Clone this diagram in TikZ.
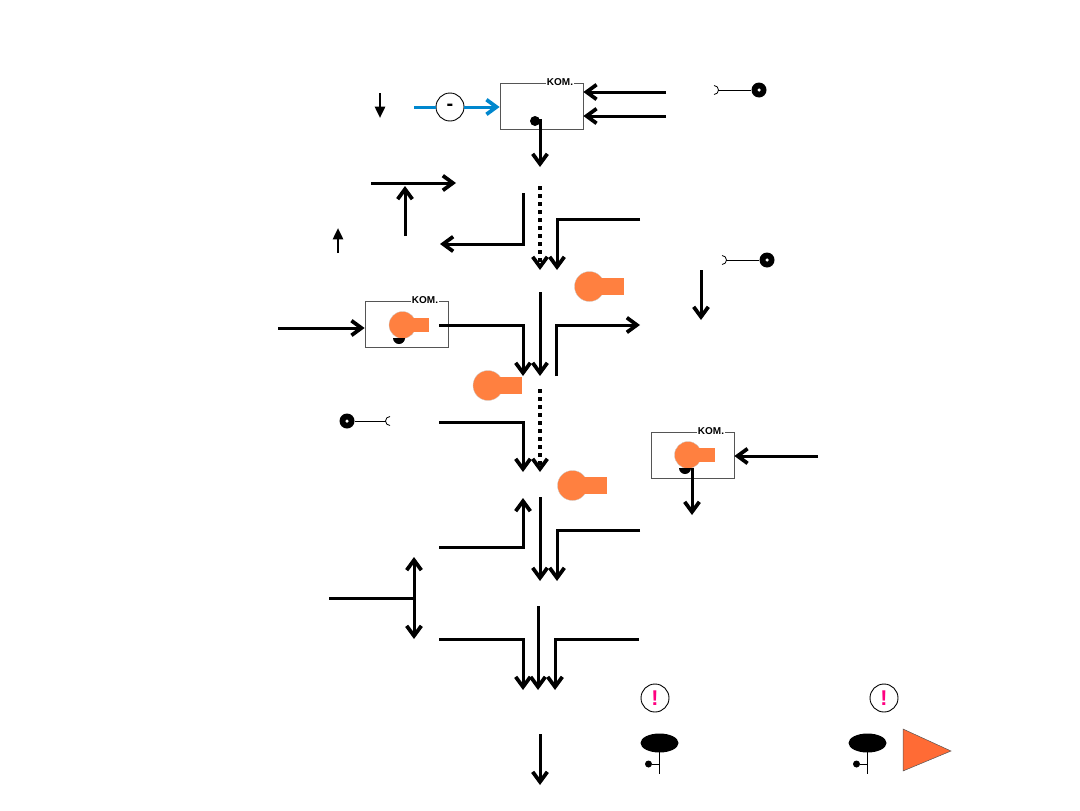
\documentclass[tikz,border=0pt]{standalone}
\usepackage{fontspec}
\setmainfont{Liberation Sans}
\usetikzlibrary{arrows.meta,shapes.geometric}
\newlength{\du}
\setlength{\du}{0.75pt}
\definecolor{bulbcolor}{rgb}{1.000000, 0.501961, 0.250980}
\definecolor{flagcolor}{rgb}{1.000000, 0.419608, 0.207843}
\definecolor{minuscolor}{rgb}{0.000000, 0.529412, 0.807843}
\definecolor{alertcolor}{rgb}{1.000000, 0.000000, 0.501961}
\definecolor{framecolor}{rgb}{0.333333, 0.333333, 0.333333}
\tikzset{
  barbtip/.tip={Straight Barb[length=7.5pt,width=11pt,line width=2.8pt]},
  flow/.style={line width=3\du,-barbtip},
  plainflow/.style={line width=3\du},
  bothflow/.style={line width=3\du,barbtip-barbtip},
  dotflow/.style={flow,line width=4\du,dash pattern=on 4\du off 4\du},
  smallflow/.style={line width=2.5\du,-{Stealth[length=8.5pt,width=7.5pt,inset=0pt]}},
  minusflow/.style={line width=3\du,draw=minuscolor,-{Straight Barb[length=7.5pt,width=11pt,line width=2.8pt,color=minuscolor]}},
  kombox/.style={draw=framecolor,line width=0.8\du,minimum width=83\du,minimum height=46\du,inner sep=0pt},
  komlabel/.style={fill=white,inner sep=1\du,font=\fontsize{7.5pt}{8pt}\selectfont\bfseries},
  roundmark/.style={draw,circle,line width=0.9\du,minimum size=28\du,inner sep=0pt},
  sensordot/.style={circle,fill=black,minimum size=15\du,inner sep=0pt},
  sensorhole/.style={circle,fill=white,minimum size=3.5\du,inner sep=0pt},
  thinwire/.style={line width=0.8\du},
  stemhead/.style={ellipse,fill=black,inner sep=0pt,minimum width=38\du,minimum height=19\du},
  stemdot/.style={circle,fill=black,minimum size=7\du,inner sep=0pt}
}
% lamp: #1=x of round part, #2=y, #3=x of right end, #4=radius, #5=half height of foot
\newcommand{\lamp}[5]{
\fill[bulbcolor,draw=framecolor!30,line width=0.3\du] (#1\du,#2\du) circle (#4\du);
\fill[bulbcolor] (#1\du,#2\du-#5\du) rectangle (#3\du,#2\du+#5\du);
}
% half disc under a lamp
\newcommand{\halfdisc}[2]{
\fill (#1\du-6\du,#2\du) arc[start angle=180,end angle=0,radius=6\du] -- cycle;
}
% stem symbol: #1=x of stem
\newcommand{\stemmark}[2]{
\node[stemhead] (#2e) at (#1\du,743\du) {};
\coordinate (#2a) at (#1\du,752\du);
\coordinate (#2b) at (#1\du,774\du);
\coordinate (#2c) at (#1\du,764\du);
\node[stemdot] (#2d) at (#1\du-11\du,764\du) {};
\draw[line width=1\du] (#2a) -- (#2b);
\draw[line width=1\du] (#2d) -- (#2c);
}
\begin{document}
\begin{tikzpicture}
\pgftransformxscale{1.000000}
\pgftransformyscale{-1.000000}
\useasboundingbox (0\du,0\du) rectangle (1080\du,810\du);
% top box
\node[kombox] (topbox) at (541.5\du,106\du) {};
\node[komlabel] (topkom) at (560\du,82\du) {KOM.};
\fill (535\du,121\du) circle (5\du);
\coordinate (topout) at (540\du,119\du);
\coordinate (topoutend) at (540\du,167\du);
\draw[flow] (topout) -- (topoutend);
\coordinate (topina) at (666\du,92\du);
\coordinate (topinb) at (666\du,116\du);
\draw[flow] (topina) -- (topbox.east |- topina);
\draw[flow] (topinb) -- (topbox.east |- topinb);
% minus
\node[roundmark,font=\fontsize{15pt}{15pt}\selectfont\bfseries] (minus) at (450\du,107\du) {\raisebox{-2.5pt}{-}};
\coordinate (minusin) at (414\du,107\du);
\draw[line width=3\du,draw=minuscolor] (minusin) -- (minus);
\draw[minusflow] (minus) -- (topbox.west |- minus);
% small arrows
\coordinate (smalla) at (380\du,93\du);
\coordinate (smallb) at (380\du,118\du);
\draw[smallflow] (smalla) -- (smallb);
\coordinate (smallc) at (338\du,253\du);
\coordinate (smalld) at (338\du,228\du);
\draw[smallflow] (smallc) -- (smalld);
% sensors
\node[sensordot] (sensa) at (759\du,90\du) {};
\node[sensorhole] (sensahole) at (759\du,90\du) {};
\coordinate (cupa) at (718\du,90\du);
\draw[thinwire] (cupa) -- (sensa);
\draw[thinwire] (714\du,85.5\du) arc[start angle=-90,end angle=90,radius=4.5\du];
\node[sensordot] (sensb) at (767\du,260\du) {};
\node[sensorhole] (sensbhole) at (767\du,260\du) {};
\coordinate (cupb) at (726\du,260\du);
\draw[thinwire] (cupb) -- (sensb);
\draw[thinwire] (722\du,255.5\du) arc[start angle=-90,end angle=90,radius=4.5\du];
\node[sensordot] (sensc) at (347\du,421\du) {};
\node[sensorhole] (senschole) at (347\du,421\du) {};
\coordinate (cupc) at (386\du,421\du);
\draw[thinwire] (sensc) -- (cupc);
\draw[thinwire] (390\du,416.5\du) arc[start angle=-90,end angle=-270,radius=4.5\du];
% first row
\coordinate (rowa) at (371\du,183\du);
\coordinate (rowb) at (456\du,183\du);
\draw[flow] (rowa) -- (rowb);
\coordinate (upa) at (405\du,236\du);
\coordinate (upb) at (405\du,186\du);
\draw[flow] (upa) -- (upb);
\coordinate (turna) at (523\du,193\du);
\coordinate (turnb) at (440\du,244\du);
\draw[flow] (turna) |- (turnb);
\coordinate (dota) at (540\du,186\du);
\coordinate (dotb) at (540\du,270\du);
\draw[dotflow] (dota) -- (dotb);
\coordinate (turnc) at (640\du,219\du);
\coordinate (turnd) at (557\du,270\du);
\draw[flow] (turnc) -| (turnd);
\lamp{589.5}{286.5}{624}{15}{8.5}
\coordinate (sidea) at (701\du,270\du);
\coordinate (sideb) at (701\du,320\du);
\draw[flow] (sidea) -- (sideb);
% second box
\node[kombox] (leftbox) at (406.5\du,324\du) {};
\node[komlabel] (leftkom) at (425\du,300\du) {KOM.};
\lamp{402.5}{325}{429}{13.5}{7}
\halfdisc{399}{338}
\coordinate (leftin) at (278\du,328\du);
\draw[flow] (leftin) -- (leftbox.west |- leftin);
\coordinate (turne) at (439\du,325\du);
\coordinate (turnf) at (523\du,376\du);
\draw[flow] (turne) -| (turnf);
\coordinate (mida) at (540\du,292\du);
\coordinate (midb) at (540\du,376\du);
\draw[flow] (mida) -- (midb);
\coordinate (turng) at (556\du,376\du);
\coordinate (turnh) at (640\du,325\du);
\draw[flow] (turng) |- (turnh);
\lamp{488}{385.5}{522}{15}{8.5}
\coordinate (dotc) at (540\du,389\du);
\coordinate (dotd) at (540\du,472\du);
\draw[dotflow] (dotc) -- (dotd);
\coordinate (turni) at (439\du,422\du);
\coordinate (turnj) at (523\du,472\du);
\draw[flow] (turni) -| (turnj);
% third box
\node[kombox] (rightbox) at (692.5\du,455\du) {};
\node[komlabel] (rightkom) at (711\du,431\du) {KOM.};
\lamp{688}{455}{715}{13.5}{7}
\halfdisc{685}{468}
\coordinate (rightin) at (818\du,456\du);
\draw[flow] (rightin) -- (rightbox.east |- rightin);
\coordinate (rightout) at (692\du,468\du);
\coordinate (rightend) at (692\du,515\du);
\draw[flow] (rightout) -- (rightend);
\lamp{572.5}{485.5}{607}{15}{8.5}
% lower rows
\coordinate (turnk) at (439\du,547\du);
\coordinate (turnl) at (523\du,498\du);
\draw[flow] (turnk) -| (turnl);
\coordinate (lowa) at (540\du,497\du);
\coordinate (lowb) at (540\du,581\du);
\draw[flow] (lowa) -- (lowb);
\coordinate (turnm) at (640\du,530\du);
\coordinate (turnn) at (557\du,581\du);
\draw[flow] (turnm) -| (turnn);
\coordinate (bothb) at (414\du,557\du);
\coordinate (bothc) at (414\du,639\du);
\draw[bothflow] (bothb) -- (bothc);
\coordinate (branch) at (329\du,598\du);
\draw[plainflow] (branch) -- (bothb |- branch);
\coordinate (turno) at (439\du,639\du);
\coordinate (turnp) at (523\du,690\du);
\draw[flow] (turno) -| (turnp);
\coordinate (lowc) at (538\du,606\du);
\coordinate (lowd) at (538\du,690\du);
\draw[flow] (lowc) -- (lowd);
\coordinate (turnq) at (639\du,639\du);
\coordinate (turnr) at (555\du,690\du);
\draw[flow] (turnq) -| (turnr);
\coordinate (lasta) at (540\du,734\du);
\coordinate (lastb) at (540\du,785\du);
\draw[flow] (lasta) -- (lastb);
% legend
\node[roundmark,text=alertcolor,font=\fontsize{16pt}{16pt}\selectfont\bfseries] (alerta) at (655\du,698\du) {!};
\node[roundmark,text=alertcolor,font=\fontsize{16pt}{16pt}\selectfont\bfseries] (alertb) at (884\du,698\du) {!};
\stemmark{659.5}{stema}
\stemmark{867.5}{stemb}
\fill[flagcolor,draw=framecolor,line width=0.5\du] (903\du,729\du)--(951\du,751\du)--(903\du,771\du)--cycle;
\end{tikzpicture}
\end{document}
